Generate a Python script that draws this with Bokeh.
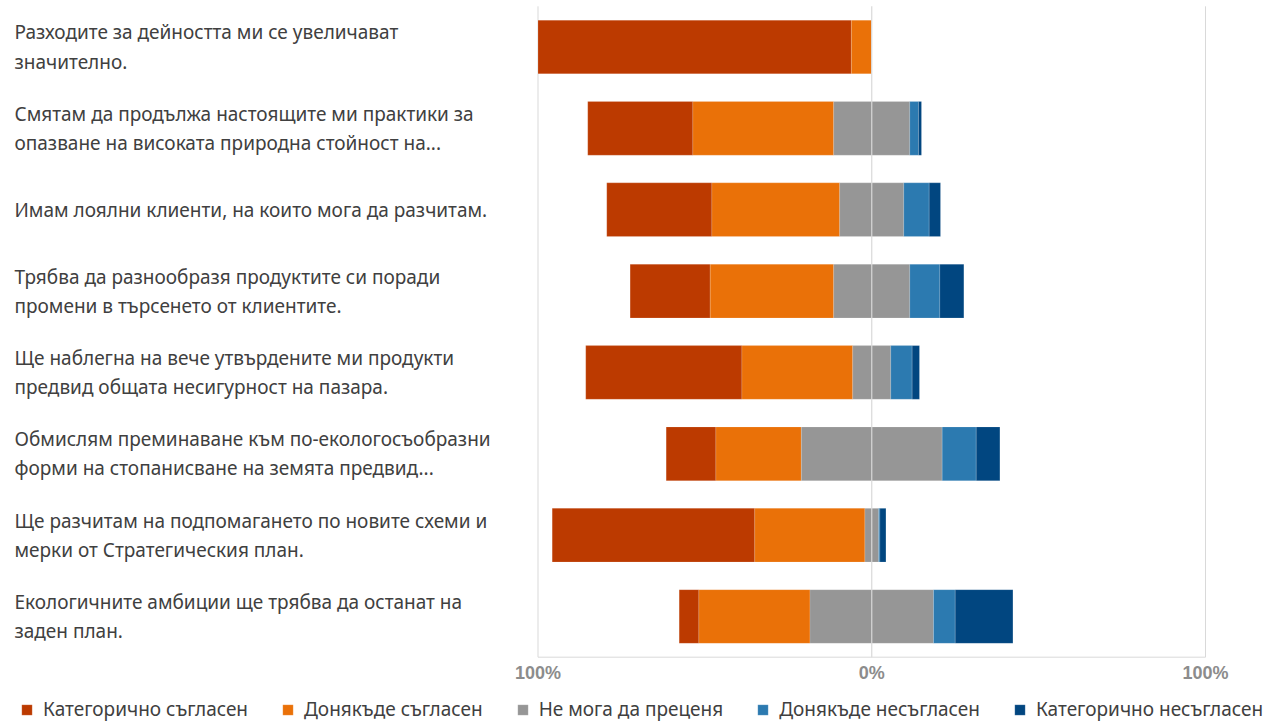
import numpy as np
from bokeh.plotting import figure
from bokeh.models import ColumnDataSource, Range1d, Legend, LegendItem
from bokeh.core.properties import value
from bokeh.embed import file_html
from bokeh.resources import INLINE

# ---------------- data ----------------
statements = [
    "Разходите за дейността ми се увеличават\nзначително.",
    "Смятам да продължа настоящите ми практики за\nопазване на високата природна стойност на...",
    "Имам лоялни клиенти, на които мога да разчитам.",
    "Трябва да разнообразя продуктите си поради\nпромени в търсенето от клиентите.",
    "Ще наблегна на вече утвърдените ми продукти\nпредвид общата несигурност на пазара.",
    "Обмислям преминаване към по-екологосъобразни\nформи на стопанисване на земята предвид...",
    "Ще разчитам на подпомагането по новите схеми и\nмерки от Стратегическия план.",
    "Екологичните амбиции ще трябва да останат на\nзаден план.",
]
series_names = [
    "Категорично съгласен",
    "Донякъде съгласен",
    "Не мога да преценя",
    "Донякъде несъгласен",
    "Категорично несъгласен",
]
strongly_agree = [93.9, 31.5, 31.5, 24.0, 46.8, 14.9, 60.7, 5.9]
somewhat_agree = [6.1, 42.2, 38.3, 37.0, 33.2, 25.6, 33.0, 33.3]
neutral = [0.0, 22.8, 19.2, 22.8, 11.4, 42.2, 4.1, 37.0]
somewhat_disagree = [0.0, 2.6, 7.6, 9.0, 6.4, 10.2, 0.4, 6.5]
strongly_disagree = [0.0, 0.9, 3.4, 7.2, 2.2, 7.1, 1.8, 17.3]
tick_values = [-100, 0, 100]
tick_labels = ["100%", "0%", "100%"]

colors = ["#BC3A00", "#EA7108", "#969696", "#2C7AB0", "#014680"]

# ---------------- derived geometry ----------------
series = np.array([strongly_agree, somewhat_agree, neutral,
                   somewhat_disagree, strongly_disagree], dtype=float)
n = len(statements)
ys = np.arange(n)
start = -(series[0] + series[1] + series[2] / 2.0)
cum = np.cumsum(series, axis=0)
rights = start + cum
lefts = start + np.vstack([np.zeros(n), cum[:-1]])

W, H = 1283, 722
px_per_pct = 3.3375
zero_px = 871.25
x_start = -zero_px / px_per_pct
x_end = (W - zero_px) / px_per_pct
row_px = 81.36
row0_px = 46.5
y_top = -row0_px / row_px
y_bottom = (H - row0_px) / row_px

p = figure(width=W, height=H, output_backend="svg", toolbar_location=None,
           x_range=Range1d(x_start, x_end), y_range=Range1d(y_bottom, y_top),
           x_axis_type=None, y_axis_type=None, min_border=0,
           outline_line_color=None, background_fill_color="white",
           border_fill_color="white")
p.grid.visible = False

# gridlines behind the bars (outer)
outer = [t for t in tick_values if t != 0]
p.segment(x0=outer, x1=outer, y0=[-0.5] * len(outer), y1=[n - 0.5] * len(outer),
          line_color="#d9d9d9", line_width=1)
p.segment(x0=[min(tick_values)], x1=[max(tick_values)], y0=[n - 0.5], y1=[n - 0.5],
          line_color="#d9d9d9", line_width=1)

renderers = []
for k in range(len(series_names)):
    src = ColumnDataSource(dict(y=ys, left=lefts[k], right=rights[k]))
    r = p.hbar(y="y", left="left", right="right", height=0.66, source=src,
               fill_color=colors[k], line_color="white", line_alpha=0.25, line_width=0.6)
    renderers.append(r)

# zero line on top of the bars
p.segment(x0=[0], x1=[0], y0=[-0.5], y1=[n - 0.5], line_color="#d9d9d9", line_width=1.2)

# category labels
p.text(x=[x_start] * n, y=ys, text=statements, x_offset=14,
       text_align="left", text_baseline="middle",
       text_font=value("Noto Sans"), text_font_size="19px",
       text_color="#404040", text_line_height=1.12)

# axis tick labels
p.text(x=tick_values, y=[n - 0.5] * len(tick_values), text=tick_labels, y_offset=16,
       text_align="center", text_baseline="middle",
       text_font=value("Liberation Sans"), text_font_style="bold",
       text_font_size="18px", text_color="#8c8c8c")

legend = Legend(items=[LegendItem(label=nm, renderers=[r]) for nm, r in zip(series_names, renderers)],
                orientation="horizontal", location=(20, 0),
                padding=0, margin=0, spacing=33, label_standoff=10,
                glyph_width=13, glyph_height=13, label_height=20,
                label_text_font="Noto Sans", label_text_font_size="19px",
                label_text_color="#404040", border_line_color=None,
                background_fill_alpha=0)
p.add_layout(legend)

open("out.html", "w").write(file_html(p, INLINE))
